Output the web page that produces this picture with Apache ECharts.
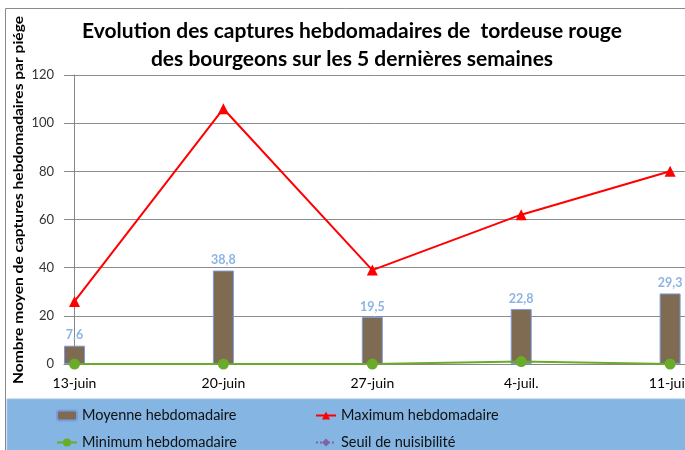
<!DOCTYPE html>
<html>
<head>
<meta charset="utf-8">
<script src="https://cdn.jsdelivr.net/npm/echarts@6/dist/echarts.min.js"></script>
<style>html,body{margin:0;padding:0;background:#fff}#c{width:685px;height:450px}</style>
</head>
<body>
<div id="c"></div>
<script>
const categories = ['13-juin', '20-juin', '27-juin', '4-juil.', '11-juil.'];
const moyenne = [7.6, 38.8, 19.5, 22.8, 29.3];
const maximum = [26, 106, 39, 62, 80];
const minimum = [0, 0, 0, 1, 0];
const seuil = [null, null, null, null, null];
const yTicks = [0, 20, 40, 60, 80, 100, 120];

const FONT = 'Lato';
const pts = arr => arr.map((v, i) => [i, v]);

const legendText = {fontFamily: FONT, fontSize: 14.5, color: '#111'};
function leg(name, left, top) {
  return {left: left, top: top, orient: 'horizontal', itemGap: 0, itemWidth: 20, itemHeight: 10,
    padding: 0, textStyle: legendText, data: [name]};
}

const chart = echarts.init(document.getElementById('c'), null, {renderer: 'canvas'});
chart.setOption({
  backgroundColor: '#ffffff',
  animation: false,
  textStyle: {fontFamily: FONT},
  title: {
    text: 'Evolution des captures hebdomadaires de  tordeuse rouge\ndes bourgeons sur les 5 dernières semaines',
    left: 347, top: 12, textAlign: 'center',
    textStyle: {fontFamily: FONT, fontSize: 21, fontWeight: 'bold', color: '#000', lineHeight: 28}
  },
  graphic: [
    {type: 'rect', shape: {x: 5.5, y: 8.5, width: 700, height: 460}, style: {fill: 'none', stroke: '#8a8a8a', lineWidth: 1}, z: -1},
    {type: 'rect', shape: {x: 7, y: 399, width: 680, height: 60}, style: {fill: '#85B5E2', stroke: '#9cc2e8'}, z: -1},
    {type: 'text', x: 18, y: 200, rotation: Math.PI / 2, scaleX: 1.11,
      style: {text: 'Nombre moyen de captures hebdomadaires par piége', font: 'bold 14px Lato', fill: '#000', align: 'center', verticalAlign: 'middle'}}
  ],
  grid: {left: 64, top: 75, right: 0, bottom: 86, outerBoundsMode: 'none', containLabel: false},
  xAxis: {
    type: 'value', min: -0.0705, max: 4.1,
    axisLine: {show: true, onZero: false, lineStyle: {color: '#868686'}},
    axisTick: {show: false},
    splitLine: {show: false},
    axisLabel: {
      customValues: [0, 1, 2, 3, 4],
      formatter: v => categories[Math.round(v)],
      fontFamily: FONT, fontSize: 14, color: '#000', margin: 12, hideOverlap: false
    }
  },
  yAxis: {
    type: 'value', min: 0, max: 120, interval: 20,
    axisLine: {show: true, lineStyle: {color: '#868686'}},
    axisTick: {show: true, length: 5, lineStyle: {color: '#868686'}},
    splitLine: {show: true, lineStyle: {color: '#8c8c8c', width: 1}},
    axisLabel: {fontFamily: FONT, fontSize: 13, color: '#333', margin: 10,
      customValues: yTicks}
  },
  legend: [
    leg('Moyenne hebdomadaire', 56, 408),
    leg('Minimum hebdomadaire', 56, 435),
    leg('Maximum hebdomadaire', 315, 408),
    leg('Seuil de nuisibilité', 315, 435)
  ],
  series: [
    {
      name: 'Moyenne hebdomadaire', type: 'bar', data: pts(moyenne), barWidth: 21,
      itemStyle: {color: '#7F6A52', borderColor: '#7B9BE0', borderWidth: 1},
      label: {show: true, position: 'top', distance: 4, fontFamily: FONT, fontSize: 12.5, fontWeight: 'bold', color: '#8DB4E2',
        formatter: p => String(p.value[1]).replace('.', ',')},
      z: 2
    },
    {
      name: 'Maximum hebdomadaire', type: 'line', data: pts(maximum),
      symbol: 'triangle', symbolSize: 11,
      lineStyle: {color: '#FF0000', width: 2}, itemStyle: {color: '#FF0000'}, z: 4
    },
    {
      name: 'Minimum hebdomadaire', type: 'line', data: pts(minimum),
      symbol: 'circle', symbolSize: 11,
      lineStyle: {color: '#6AAB2A', width: 2}, itemStyle: {color: '#6AAB2A'}, z: 3
    },
    {
      name: 'Seuil de nuisibilité', type: 'line', data: pts(seuil),
      symbol: 'diamond', symbolSize: 10,
      lineStyle: {color: '#8064A2', width: 2, type: 'dotted'}, itemStyle: {color: '#8064A2'}
    }
  ]
});
</script>
</body>
</html>
